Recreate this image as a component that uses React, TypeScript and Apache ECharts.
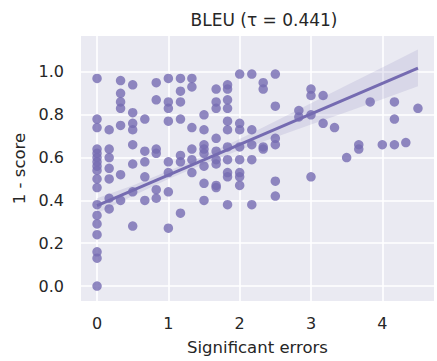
import React, { useEffect, useRef } from "react";
import * as echarts from "echarts";

// Number of significant errors (x) and the 1 - score values observed at each level
const errorLevels = [
  0, 0.17, 0.33, 0.5, 0.67, 0.83, 1, 1.17, 1.33, 1.5, 1.67, 1.83, 2, 2.17,
  2.33, 2.5, 2.83, 3, 3.17, 3.33, 3.5, 3.67, 3.83, 4, 4.17, 4.33, 4.5,
];
const scoresByLevel = [
  [0.97, 0.78, 0.74, 0.64, 0.62, 0.6, 0.58, 0.56, 0.54, 0.5, 0.46, 0.38, 0.33, 0.29, 0.24, 0.16, 0.13, 0.0],
  [0.73, 0.64, 0.6, 0.55, 0.5, 0.41, 0.36],
  [0.96, 0.9, 0.86, 0.83, 0.75, 0.52, 0.4],
  [0.94, 0.81, 0.76, 0.73, 0.66, 0.57, 0.44, 0.28],
  [0.78, 0.63, 0.58, 0.51, 0.4],
  [0.95, 0.87, 0.64, 0.62, 0.45, 0.41],
  [0.97, 0.86, 0.83, 0.77, 0.58, 0.53, 0.44, 0.27],
  [0.97, 0.91, 0.86, 0.78, 0.61, 0.58, 0.34],
  [0.97, 0.93, 0.74, 0.64, 0.59, 0.53],
  [0.8, 0.73, 0.66, 0.64, 0.62, 0.56, 0.48, 0.4],
  [0.92, 0.86, 0.83, 0.69, 0.63, 0.59, 0.57, 0.47, 0.46],
  [0.94, 0.92, 0.87, 0.83, 0.77, 0.73, 0.65, 0.59, 0.53, 0.51, 0.38],
  [0.99, 0.76, 0.73, 0.65, 0.59, 0.53, 0.51, 0.47],
  [0.99, 0.73, 0.66, 0.59, 0.38],
  [0.95, 0.92, 0.65, 0.64],
  [0.99, 0.84, 0.69, 0.66, 0.49, 0.42],
  [0.82, 0.79],
  [0.92, 0.89, 0.8, 0.51],
  [0.89, 0.76],
  [0.74],
  [0.6],
  [0.66, 0.64],
  [0.86],
  [0.66],
  [0.86, 0.78, 0.66],
  [0.67],
  [0.83],
];

// Regression line and its confidence band
const fitX = [0, 4.5];
const fitY = [0.375, 1.018];
const bandX = [0, 0.5, 1, 1.5, 2, 2.5, 3, 3.5, 4, 4.5];
const bandLow = [0.34, 0.42, 0.5, 0.57, 0.635, 0.695, 0.754, 0.813, 0.873, 0.933];
const bandHigh = [0.41, 0.47, 0.537, 0.609, 0.687, 0.77, 0.854, 0.938, 1.021, 1.105];

const title = "BLEU (τ = 0.441)";
const xName = "Significant errors";
const yName = "1 - score";

const COLOR = "#756bb1";
const TEXT = "#262626";
const FONT = "DejaVu Sans";

export default function App() {
  const ref = useRef<HTMLDivElement>(null);

  useEffect(() => {
    document.body.style.margin = "0";
    if (!ref.current) return;
    const chart = echarts.init(ref.current, undefined, { renderer: "svg" });

    const points: number[][] = [];
    errorLevels.forEach((x, i) => {
      scoresByLevel[i].forEach((y) => points.push([x, y]));
    });

    const isMultiple = (v: number, step: number) =>
      Math.abs(v / step - Math.round(v / step)) < 1e-6;

    chart.setOption({
      animation: false,
      textStyle: { fontFamily: FONT },
      grid: {
        left: 81,
        top: 36,
        width: 366,
        height: 268,
        show: true,
        backgroundColor: "#EAEAF2",
        borderWidth: 0,
      },
      xAxis: {
        type: "value",
        min: -0.225,
        max: 4.725,
        splitNumber: 5,
        minInterval: 1,
        maxInterval: 1,
        axisLine: { show: false },
        axisTick: { show: false },
        axisLabel: {
          fontSize: 16,
          color: TEXT,
          margin: 14,
          fontFamily: FONT,
          formatter: (v: number) => (isMultiple(v, 1) ? String(Math.round(v)) : ""),
        },
        splitLine: {
          show: true,
          showMinLine: false,
          showMaxLine: false,
          lineStyle: { color: "#ffffff", width: 1.6 },
        },
        name: xName,
        nameLocation: "middle",
        nameGap: 38,
        nameTextStyle: { fontSize: 16.5, color: TEXT, fontFamily: FONT },
      },
      yAxis: {
        type: "value",
        min: -0.07,
        max: 1.168,
        splitNumber: 5,
        minInterval: 0.2,
        maxInterval: 0.2,
        axisLine: { show: false },
        axisTick: { show: false },
        axisLabel: {
          fontSize: 16,
          color: TEXT,
          margin: 17,
          fontFamily: FONT,
          formatter: (v: number) => (isMultiple(v, 0.2) ? v.toFixed(1) : ""),
        },
        splitLine: {
          show: true,
          showMinLine: false,
          showMaxLine: false,
          lineStyle: { color: "#ffffff", width: 1.6 },
        },
        name: yName,
        nameLocation: "middle",
        nameGap: 50,
        nameRotate: 90,
        nameTextStyle: { fontSize: 16.5, color: TEXT, fontFamily: FONT },
      },
      graphic: [
        {
          type: "text",
          x: 264,
          y: 11,
          style: {
            text: title,
            fontSize: 17,
            fontFamily: FONT,
            fill: TEXT,
            textAlign: "center",
            textVerticalAlign: "top",
          },
        },
      ],
      series: [
        {
          type: "scatter",
          data: points,
          symbolSize: 9.5,
          itemStyle: { color: COLOR, opacity: 0.8 },
          z: 2,
        },
        {
          type: "custom",
          data: [[0, 0]],
          z: 3,
          renderItem: (_params: any, api: any) => {
            const pts: number[][] = [];
            bandX.forEach((x, i) => pts.push(api.coord([x, bandHigh[i]])));
            for (let i = bandX.length - 1; i >= 0; i--) {
              pts.push(api.coord([bandX[i], bandLow[i]]));
            }
            return {
              type: "polygon",
              shape: { points: pts },
              style: { fill: "rgba(117,107,177,0.15)" },
            };
          },
        },
        {
          type: "line",
          data: fitX.map((x, i) => [x, fitY[i]]),
          showSymbol: false,
          lineStyle: { color: COLOR, width: 3 },
          z: 4,
        },
      ],
    });

    return () => chart.dispose();
  }, []);

  return <div ref={ref} style={{ width: 437, height: 361 }} />;
}
